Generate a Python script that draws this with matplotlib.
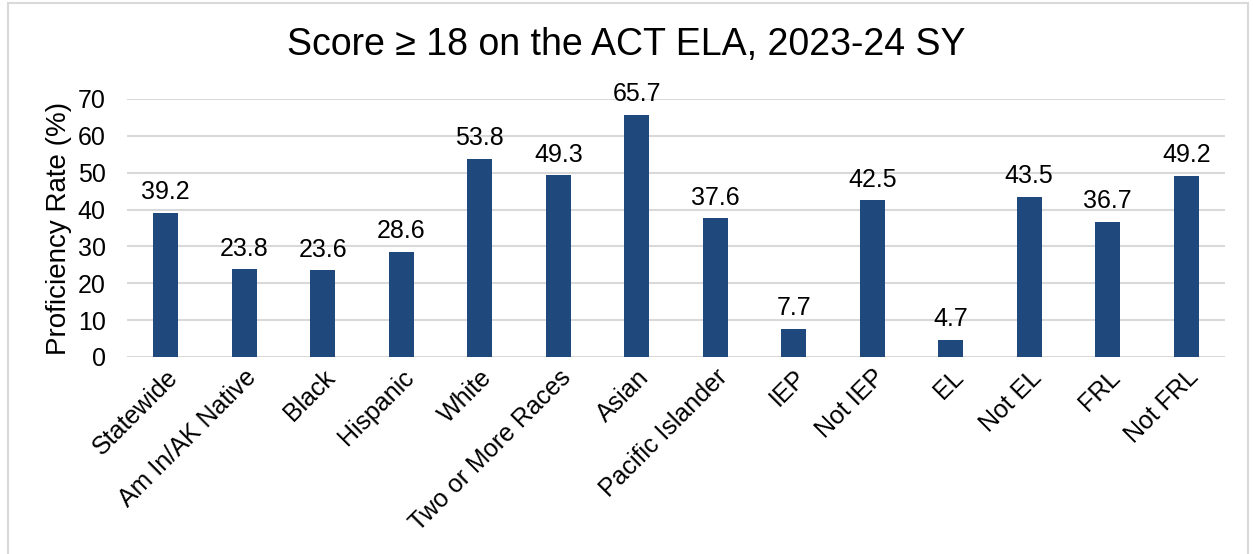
import numpy as np
import matplotlib.pyplot as plt
from matplotlib.patches import Rectangle

plt.rcParams['font.family'] = ['Liberation Sans', 'DejaVu Sans']

# chart data
groups = ['Statewide', 'Am In/AK Native', 'Black', 'Hispanic', 'White',
          'Two or More Races', 'Asian', 'Pacific Islander', 'IEP', 'Not IEP',
          'EL', 'Not EL', 'FRL', 'Not FRL']
rates = [39.2, 23.8, 23.6, 28.6, 53.8, 49.3, 65.7, 37.6, 7.7, 42.5, 4.7, 43.5, 36.7, 49.2]
yticks = [0, 10, 20, 30, 40, 50, 60, 70]

fig = plt.figure(figsize=(12.53, 5.54), dpi=100)
ax = fig.add_axes([0.101, 0.3556, 0.877, 0.4657])

x = np.arange(len(groups))
bars = ax.bar(x, rates, width=0.32, color='#1F497D', zorder=3)

for xi, v in zip(x, rates):
    ax.text(xi, v + 2.3, f'{v:.1f}', ha='center', va='bottom', fontsize=18)

ax.set_xlim(-0.5, len(groups) - 0.5)
ax.set_ylim(0, 70)
ax.set_yticks(yticks)
ax.tick_params(axis='y', labelsize=18, length=0, pad=15)
ax.tick_params(axis='x', length=0, pad=6)
ax.set_xticks(x)
ax.set_xticklabels(groups, rotation=45, ha='right', rotation_mode='anchor', fontsize=18)
ax.grid(axis='y', color='#D9D9D9', linewidth=1.5, zorder=0)
for s in ax.spines.values():
    s.set_visible(False)

ax.set_ylabel('Proficiency Rate (%)', fontsize=20, labelpad=4)
fig.text(0.5, 0.918, 'Score \u2265 18 on the ACT ELA, 2023-24 SY', ha='center', va='center', fontsize=27)

# light border around the chart area
fig.patches.append(Rectangle((0.006, -0.01), 0.99, 1.004, transform=fig.transFigure,
                             fill=False, edgecolor='#D9D9D9', linewidth=1.5))

fig.savefig('out.png', dpi=100)
